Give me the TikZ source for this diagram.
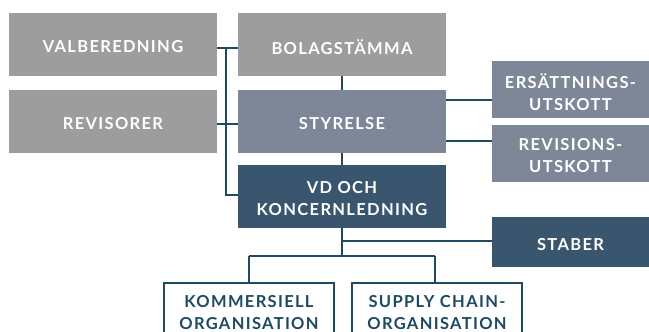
\documentclass[tikz,border=0pt]{standalone}
\usepackage{fontspec}
\setmainfont{Lato}[LetterSpace=8]
\definecolor{lgray}{HTML}{9C9D9C}
\definecolor{slate}{HTML}{7E8797}
\definecolor{navy}{HTML}{3A566F}
\definecolor{linec}{HTML}{1E4A62}
\begin{document}
\begin{tikzpicture}[x=1pt,y=-1pt,
  box/.style={rectangle, inner sep=0pt},
  lbl/.style={inner sep=0pt, align=center, font=\bfseries\fontsize{16.5}{22}\selectfont, text=white, yshift=-2.2pt},
  dlbl/.style={lbl, text=linec},
  graybox/.style={box, fill=lgray, minimum width=208pt, minimum height=63pt},
  slatebox/.style={box, fill=slate},
  navybox/.style={box, fill=navy},
  sidebox/.style={minimum width=157pt},
  whitebox/.style={box, fill=white, draw=linec, line width=2pt, minimum width=170pt, minimum height=70pt},
  conn/.style={draw=linec, line width=2pt}]
\useasboundingbox (0,0) rectangle (649,332);
\clip (0,0) rectangle (649,332);
\node[graybox] (valb) at (113,44.5) {};
\node[graybox] (bolag) at (342,44.5) {};
\node[graybox] (revis) at (113,121.5) {};
\node[slatebox, minimum width=208pt, minimum height=63pt] (styr) at (342,121.5) {};
\node[navybox, minimum width=208pt, minimum height=63pt] (vd) at (342,196.5) {};
\node[slatebox, sidebox, minimum height=57pt] (ers) at (570.5,89.5) {};
\node[slatebox, sidebox, minimum height=57pt] (revu) at (570.5,153.5) {};
\node[navybox, sidebox, minimum height=50pt] (stab) at (570.5,242) {};
\node[whitebox, anchor=north, yshift=-1pt] (komm) at (249,281) {};
\node[whitebox, anchor=north, yshift=-1pt] (supp) at (437,281) {};
\node[lbl] (valbt) at (valb.center) {VALBEREDNING};
\node[lbl] (bolagt) at (bolag.center) {BOLAGSTÄMMA};
\node[lbl] (revist) at (revis.center) {REVISORER};
\node[lbl] (styrt) at (styr.center) {STYRELSE};
\node[lbl] (vdt) at (vd.center) {VD OCH\\KONCERNLEDNING};
\node[lbl] (erst) at (ers.center) {ERSÄTTNINGS-\\UTSKOTT};
\node[lbl] (revut) at (revu.center) {REVISIONS-\\UTSKOTT};
\node[lbl] (stabt) at (stab.center) {STABER};
\node[dlbl] (kommt) at (249,310.5) {KOMMERSIELL\\ORGANISATION};
\node[dlbl] (suppt) at (437,310.5) {SUPPLY CHAIN-\\ORGANISATION};
% connectors
\coordinate (jv) at (226,48);
\coordinate (jr) at (226,124);
\coordinate (jd) at (226,195);
\draw[conn] (valb.east |- jv) -- (bolag.west |- jv);
\draw[conn] (revis.east |- jr) -- (styr.west |- jr);
\draw[conn] (jv) -- (jd) -- (vd.west |- jd);
\draw[conn] (bolag.south) -- (styr.north);
\draw[conn] (styr.south) -- (vd.north);
\coordinate (je) at (446,100);
\coordinate (jf) at (446,141);
\draw[conn] (je) -- (ers.west |- je);
\draw[conn] (jf) -- (revu.west |- jf);
\coordinate (jb) at (342,256);
\coordinate (js) at (342,241);
\coordinate (jk) at (249,256);
\coordinate (jsp) at (435,256);
\draw[conn] (vd.south) -- (jb);
\draw[conn] (js) -- (stab.west |- js);
\draw[conn] (jk) -- (jsp);
\draw[conn] (jk) -- (komm.north -| jk);
\draw[conn] (jsp) -- (supp.north -| jsp);
\end{tikzpicture}
\end{document}
